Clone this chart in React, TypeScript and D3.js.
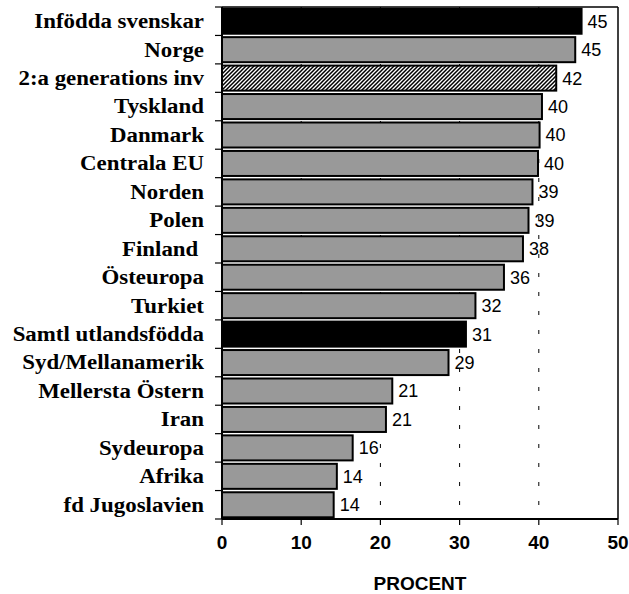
import * as d3 from 'd3';

const categories = [
  'Infödda svenskar',
  'Norge',
  '2:a generations inv',
  'Tyskland',
  'Danmark',
  'Centrala EU',
  'Norden',
  'Polen',
  'Finland ',
  'Östeuropa',
  'Turkiet',
  'Samtl utlandsfödda',
  'Syd/Mellanamerik',
  'Mellersta Östern',
  'Iran',
  'Sydeuropa',
  'Afrika',
  'fd Jugoslavien',
];
const values = [45.4, 44.6, 42.2, 40.4, 40.1, 39.9, 39.2, 38.7, 38.0, 35.6, 32.0, 30.8, 28.6, 21.5, 20.7, 16.5, 14.5, 14.1];
const valueLabels = ['45', '45', '42', '40', '40', '40', '39', '39', '38', '36', '32', '31', '29', '21', '21', '16', '14', '14'];
const kinds = ['black', 'gray', 'hatch', 'gray', 'gray', 'gray', 'gray', 'gray', 'gray', 'gray', 'gray', 'black', 'gray', 'gray', 'gray', 'gray', 'gray', 'gray'];
const xTicks = [0, 10, 20, 30, 40, 50];
const gridTicks = [10, 20, 30, 40];

const W = 629;
const H = 594;
const plot = { left: 222, right: 618, top: 7, bottom: 519 };

const fillFor = (k: string) => (k === 'black' ? '#000' : k === 'hatch' ? 'url(#hatch)' : '#999999');

export default function App() {
  const x = d3.scaleLinear().domain([0, 50]).range([plot.left, plot.right]);
  const y = d3
    .scaleBand<string>()
    .domain(categories)
    .range([plot.top, plot.bottom])
    .paddingInner(0.12)
    .paddingOuter(0.06);
  const step = y.step();
  const bounds = d3.range(categories.length + 1).map((i) => plot.top + i * step);

  return (
    <svg width={W} height={H} style={{ position: 'absolute', left: 0, top: 0, background: '#fff' }}>
      <defs>
        <pattern id="hatch" patternUnits="userSpaceOnUse" width={4} height={4}>
          <rect width={4} height={4} fill="#fff" />
          <path d="M-1,1 L1,-1 M0,4 L4,0 M3,5 L5,3" stroke="#000" strokeWidth={1.5} />
        </pattern>
      </defs>

      {/* gridlines */}
      {gridTicks.map((t) => (
        <line key={t} x1={x(t)} x2={x(t)} y1={plot.top} y2={plot.bottom} stroke="#000" strokeWidth={1} strokeDasharray="4 15" />
      ))}

      {/* frame top + right */}
      <line x1={plot.left} x2={plot.right} y1={plot.top} y2={plot.top} stroke="#000" strokeWidth={1.5} />
      <line x1={plot.right} x2={plot.right} y1={plot.top} y2={plot.bottom} stroke="#000" strokeWidth={1.5} />

      {/* bars */}
      {categories.map((c, i) => (
        <rect
          key={c}
          x={x(0)}
          y={y(c)}
          width={x(values[i]) - x(0)}
          height={y.bandwidth()}
          fill={fillFor(kinds[i])}
          stroke="#000"
          strokeWidth={2}
        />
      ))}

      {/* value labels */}
      {categories.map((c, i) => (
        <text
          key={c}
          x={x(values[i]) + 6}
          y={(y(c) ?? 0) + y.bandwidth() / 2}
          dy="0.36em"
          fontFamily="'Liberation Sans', Arial, sans-serif"
          fontSize={18}
          fill="#000"
        >
          {valueLabels[i]}
        </text>
      ))}

      {/* left axis */}
      <line x1={plot.left} x2={plot.left} y1={plot.top} y2={plot.bottom} stroke="#000" strokeWidth={2} />
      {bounds.map((b, i) => (
        <line key={i} x1={plot.left - 7} x2={plot.left} y1={b} y2={b} stroke="#000" strokeWidth={1.2} />
      ))}
      {categories.map((c) => (
        <text
          key={c}
          transform={`translate(204,${(y(c) ?? 0) + y.bandwidth() / 2}) scale(1.09,1)`}
          dy="0.33em"
          textAnchor="end"
          fontFamily="'Liberation Serif', 'Times New Roman', serif"
          fontWeight="bold"
          fontSize={21}
          style={{ whiteSpace: 'pre' }}
          fill="#000"
        >
          {c}
        </text>
      ))}

      {/* bottom axis */}
      <line x1={plot.left} x2={plot.right} y1={plot.bottom} y2={plot.bottom} stroke="#000" strokeWidth={2} />
      {xTicks.map((t) => (
        <g key={t}>
          <line x1={x(t)} x2={x(t)} y1={plot.bottom} y2={plot.bottom + 6} stroke="#000" strokeWidth={1.2} />
          <text
            x={x(t)}
            y={549}
            textAnchor="middle"
            fontFamily="'Liberation Sans', Arial, sans-serif"
            fontWeight="bold"
            fontSize={19}
            fill="#000"
          >
            {t}
          </text>
        </g>
      ))}
      <text
        x={420}
        y={590}
        textAnchor="middle"
        fontFamily="'Liberation Sans', Arial, sans-serif"
        fontWeight="bold"
        fontSize={19}
        fill="#000"
      >
        PROCENT
      </text>
    </svg>
  );
}
